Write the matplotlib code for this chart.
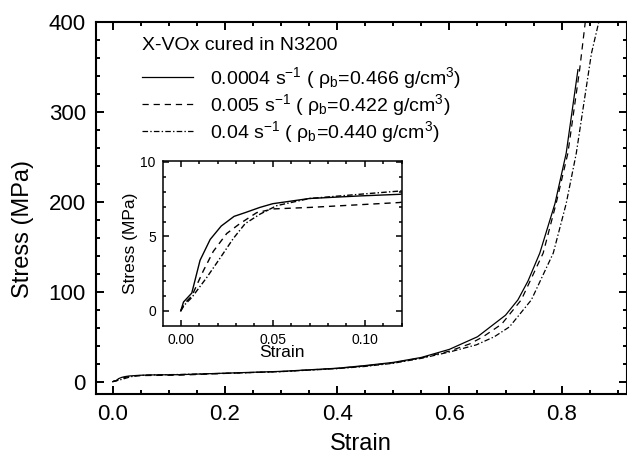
import matplotlib
matplotlib.use("Agg")
import matplotlib.pyplot as plt
from matplotlib.ticker import MultipleLocator, FormatStrFormatter

plt.rcParams['font.family'] = ['Liberation Sans', 'DejaVu Sans']
plt.rcParams['mathtext.fontset'] = 'custom'
plt.rcParams['mathtext.rm'] = 'Liberation Sans'
plt.rcParams['mathtext.it'] = 'Liberation Sans'
plt.rcParams['mathtext.default'] = 'regular'
plt.rcParams['lines.scale_dashes'] = False

# ---------------- data ----------------
strain_a = [0, 0.0015, 0.006, 0.0105, 0.016, 0.022, 0.029, 0.035, 0.043, 0.050, 0.070, 0.097, 0.119,
            0.2, 0.3, 0.4, 0.45, 0.5, 0.55, 0.6, 0.65, 0.70, 0.722, 0.74, 0.761, 0.788, 0.808, 0.829]
stress_a = [0, 0.6, 1.2, 3.4, 4.8, 5.7, 6.35, 6.6, 6.95, 7.2, 7.55, 7.72, 7.83,
            9.5, 11.5, 15, 18, 21.5, 27, 36, 50, 74, 91, 112, 143, 198, 254, 347]

strain_b = [0, 0.002, 0.006, 0.0123, 0.0177, 0.025, 0.032, 0.0413, 0.0504, 0.070, 0.097, 0.119,
            0.2, 0.3, 0.4, 0.45, 0.5, 0.55, 0.6, 0.636, 0.66, 0.693, 0.728, 0.767, 0.790, 0.811, 0.832, 0.843]
stress_b = [0, 0.5, 1.0, 2.7, 4.0, 5.2, 5.85, 6.6, 6.85, 6.95, 7.13, 7.28,
            9.2, 11.3, 14.8, 17.5, 21, 26.5, 34, 42, 50, 64, 91, 143, 198, 254, 347, 405]

strain_c = [0, 0.002, 0.006, 0.0141, 0.0214, 0.0286, 0.035, 0.0431, 0.0522, 0.070, 0.097, 0.119,
            0.2, 0.3, 0.4, 0.45, 0.5, 0.55, 0.6, 0.648, 0.68, 0.707, 0.746, 0.785, 0.808, 0.826, 0.853, 0.868]
stress_c = [0, 0.4, 0.9, 2.24, 3.55, 4.87, 5.86, 6.5, 7.07, 7.55, 7.83, 8.05,
            9.3, 11.2, 14.5, 17, 20.5, 26, 33, 41, 50, 61, 91, 143, 198, 254, 365, 405]

labels = ['0.0004 s$^{-1}$ ( $\\rho_{b}$=0.466 g/cm$^{3}$)',
          '0.005 s$^{-1}$ ( $\\rho_{b}$=0.422 g/cm$^{3}$)',
          '0.04 s$^{-1}$ ( $\\rho_{b}$=0.440 g/cm$^{3}$)']
legend_title = 'X-VOx cured in N3200'

series = [(strain_a, stress_a), (strain_b, stress_b), (strain_c, stress_c)]
styles = ['-', (0, (4.5, 3.5)), (0, (4.0, 1.6, 1.0, 1.6))]

# ---------------- figure ----------------
fig = plt.figure(figsize=(6.27, 4.55), dpi=100)
ax = fig.add_axes([95.7/627, 1 - 394.3/455, (626.5 - 95.7)/627, (394.3 - 22)/455])

handles = []
for (x, y), ls, lab in zip(series, styles, labels):
    h, = ax.plot(x, y, color='black', lw=0.9, linestyle=ls, label=lab)
    handles.append(h)

ax.set_xlim(-0.0303, 0.9155)
ax.set_ylim(-14, 400)
ax.xaxis.set_major_locator(MultipleLocator(0.2))
ax.xaxis.set_minor_locator(MultipleLocator(0.05))
ax.yaxis.set_major_locator(MultipleLocator(100))
ax.yaxis.set_minor_locator(MultipleLocator(20))
ax.xaxis.set_major_formatter(FormatStrFormatter('%.1f'))
ax.tick_params(which='both', direction='in', top=True, right=True, width=1.4, labelsize=16)
ax.tick_params(which='major', length=6, pad=7)
ax.tick_params(which='minor', length=3)
for s in ax.spines.values():
    s.set_linewidth(1.5)
ax.set_xlabel('Strain', fontsize=17, labelpad=6)
ax.set_ylabel('Stress (MPa)', fontsize=17)
ax.yaxis.set_label_coords(-0.117, 0.444)

ax.text(0.087, 0.938, legend_title, transform=ax.transAxes, fontsize=14,
        ha='left', va='center')
leg = ax.legend(handles=handles, loc='upper left',
                bbox_to_anchor=(0.087, 0.884), frameon=False, fontsize=14,
                handlelength=2.62, handletextpad=0.87, labelspacing=0.05,
                borderpad=0, borderaxespad=0)

# ---------------- inset ----------------
axi = fig.add_axes([162.7/627, 1 - 325.7/455, (401.7 - 162.7)/627, (325.7 - 160.5)/455])
for (x, y), ls in zip(series, styles):
    axi.plot(x, y, color='black', lw=1.0, linestyle=ls)
axi.set_xlim(-0.0098, 0.1201)
axi.set_ylim(-0.99, 10.1)
axi.xaxis.set_major_locator(MultipleLocator(0.05))
axi.xaxis.set_minor_locator(MultipleLocator(0.01))
axi.yaxis.set_major_locator(MultipleLocator(5))
axi.yaxis.set_minor_locator(MultipleLocator(1))
axi.xaxis.set_major_formatter(FormatStrFormatter('%.2f'))
axi.tick_params(which='both', direction='in', top=True, right=True, width=1.1, labelsize=10)
axi.tick_params(which='major', length=4.5, pad=5)
axi.tick_params(which='minor', length=2.5)
for s in axi.spines.values():
    s.set_linewidth(1.1)
axi.set_xlabel('Strain', fontsize=12.5, labelpad=-1)
axi.set_ylabel('Stress (MPa)', fontsize=12.5, labelpad=2)

fig.savefig('out.png', dpi=100)
